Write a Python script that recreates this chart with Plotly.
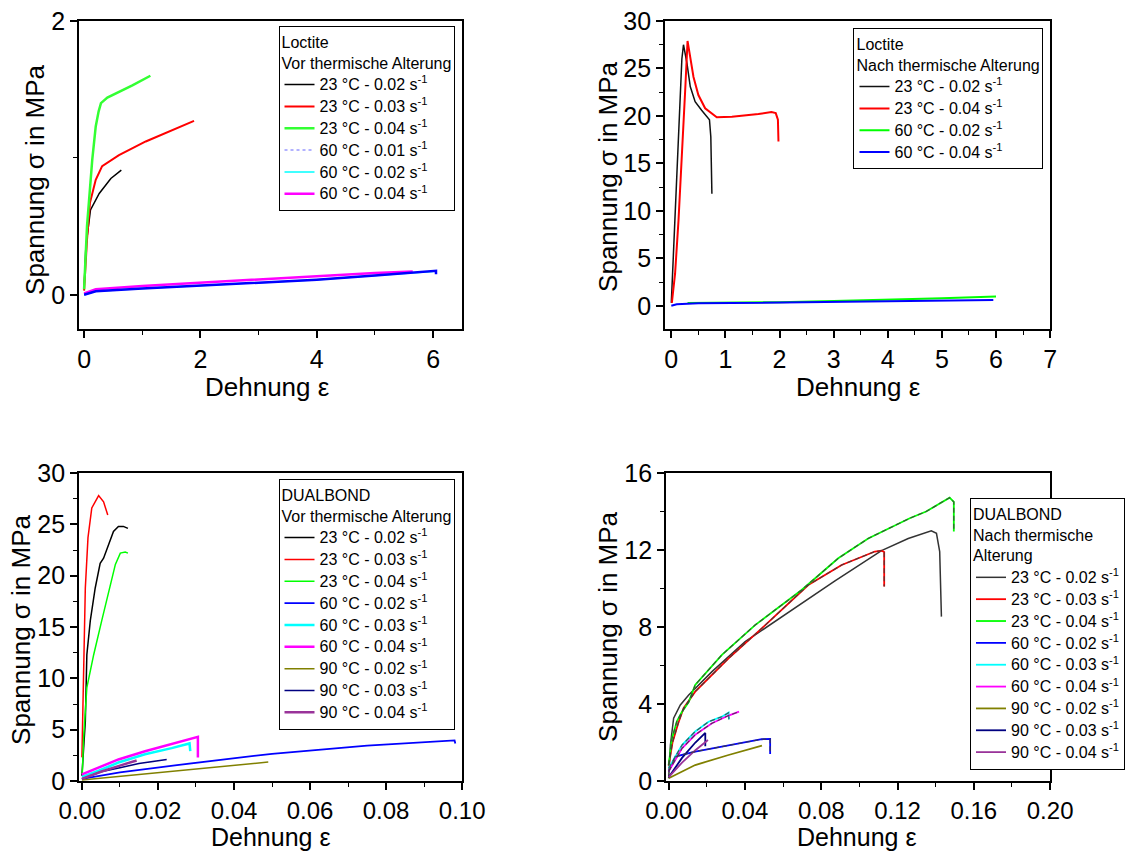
import plotly.graph_objects as go

W, H = 1125, 854
FONT = "Liberation Sans, Arial, sans-serif"

# ---------------- Panel 1: Loctite, vor thermische Alterung ----------------
p1_names = ["23 °C - 0.02 s<sup>-1</sup>", "23 °C - 0.03 s<sup>-1</sup>", "23 °C - 0.04 s<sup>-1</sup>",
            "60 °C - 0.01 s<sup>-1</sup>", "60 °C - 0.02 s<sup>-1</sup>", "60 °C - 0.04 s<sup>-1</sup>"]
p1_b_x = [0.0, 0.03, 0.11, 0.26, 0.46, 0.64]
p1_b_y = [0.05, 0.35, 0.62, 0.74, 0.85, 0.91]
p1_r_x = [0.0, 0.05, 0.1, 0.2, 0.31, 0.6, 1.06, 1.51, 1.89]
p1_r_y = [0.03, 0.4, 0.67, 0.84, 0.94, 1.02, 1.12, 1.20, 1.27]
p1_g_x = [0.0, 0.05, 0.14, 0.2, 0.25, 0.29, 0.4, 0.6, 0.83, 1.14]
p1_g_y = [0.04, 0.5, 0.985, 1.23, 1.34, 1.40, 1.44, 1.48, 1.53, 1.60]
p1_c_x = [0.0, 0.2, 1.0, 2.0, 3.0, 4.0, 5.0, 6.0]
p1_c_y = [0.0, 0.025, 0.045, 0.068, 0.09, 0.11, 0.14, 0.17]
p1_bl_x = [0.0, 0.2, 1.0, 2.0, 3.0, 4.0, 5.0, 6.05, 6.05]
p1_bl_y = [0.0, 0.025, 0.045, 0.068, 0.09, 0.11, 0.14, 0.175, 0.15]
p1_m_x = [0.0, 0.2, 1.0, 2.0, 3.0, 4.0, 5.0, 5.65]
p1_m_y = [0.01, 0.04, 0.065, 0.09, 0.115, 0.139, 0.16, 0.17]

# ---------------- Panel 2: Loctite, nach thermische Alterung ----------------
p2_names = ["23 °C - 0.02 s<sup>-1</sup>", "23 °C - 0.04 s<sup>-1</sup>",
            "60 °C - 0.02 s<sup>-1</sup>", "60 °C - 0.04 s<sup>-1</sup>"]
p2_b_x = [0.0, 0.04, 0.10, 0.165, 0.195, 0.225, 0.29, 0.35, 0.44, 0.56, 0.67, 0.705, 0.73, 0.75]
p2_b_y = [0.3, 5.5, 12.5, 21.3, 26.0, 27.5, 25.5, 23.1, 21.5, 20.6, 19.9, 19.6, 17.8, 11.8]
p2_r_x = [0.01, 0.07, 0.133, 0.19, 0.26, 0.30, 0.35, 0.41, 0.50, 0.625, 0.84, 1.12, 1.61, 1.85, 1.93, 1.97, 1.98]
p2_r_y = [0.3, 3.4, 9.0, 16.1, 23.1, 27.9, 26.2, 24.1, 22.2, 20.8, 19.85, 19.9, 20.2, 20.4, 20.3, 19.6, 17.3]
p2_g_x = [0.3, 1.0, 2.0, 3.0, 4.0, 5.0, 6.0]
p2_g_y = [0.3, 0.32, 0.38, 0.5, 0.62, 0.78, 0.98]
p2_bl_x = [0.0, 0.1, 0.5, 1.0, 2.0, 3.0, 4.0, 5.0, 5.95]
p2_bl_y = [0.0, 0.15, 0.25, 0.28, 0.32, 0.38, 0.45, 0.52, 0.6]

# ---------------- Panel 3: DUALBOND, vor thermische Alterung ----------------
p3_names = ["23 °C - 0.02 s<sup>-1</sup>", "23 °C - 0.03 s<sup>-1</sup>", "23 °C - 0.04 s<sup>-1</sup>",
            "60 °C - 0.02 s<sup>-1</sup>", "60 °C - 0.03 s<sup>-1</sup>", "60 °C - 0.04 s<sup>-1</sup>",
            "90 °C - 0.02 s<sup>-1</sup>", "90 °C - 0.03 s<sup>-1</sup>", "90 °C - 0.04 s<sup>-1</sup>"]
p3_k_x = [0.0, 0.0009, 0.0013, 0.0022, 0.0035, 0.0048, 0.0057, 0.007, 0.0083, 0.0096, 0.0109, 0.0121]
p3_k_y = [0.5, 5.8, 12.3, 15.6, 18.8, 21.2, 21.7, 23.0, 24.3, 24.8, 24.8, 24.6]
p3_r_x = [0.0, 0.00045, 0.0009, 0.0016, 0.0026, 0.0044, 0.0057, 0.0068]
p3_r_y = [2.3, 9.1, 18.8, 23.7, 26.6, 27.8, 27.2, 25.9]
p3_g_x = [0.0001, 0.00045, 0.0013, 0.0031, 0.0052, 0.0074, 0.0088, 0.0101, 0.0114, 0.0121]
p3_g_y = [0.65, 4.2, 9.1, 12.3, 15.6, 18.8, 21.1, 22.2, 22.3, 22.2]
p3_bl_x = [0.0, 0.01, 0.025, 0.05, 0.075, 0.098, 0.0982]
p3_bl_y = [0.2, 0.85, 1.55, 2.65, 3.45, 3.95, 3.65]
p3_c_x = [0.0, 0.0044, 0.0096, 0.0166, 0.0236, 0.0283, 0.0285]
p3_c_y = [0.4, 1.0, 1.8, 2.6, 3.2, 3.66, 2.9]
p3_m_x = [0.0, 0.0044, 0.0096, 0.0166, 0.0236, 0.0302, 0.0305, 0.0305]
p3_m_y = [0.64, 1.3, 2.1, 2.9, 3.6, 4.2, 4.3, 2.3]
p3_o_x = [0.0, 0.01, 0.02, 0.03, 0.04, 0.049]
p3_o_y = [0.1, 0.45, 0.85, 1.2, 1.55, 1.85]
p3_n_x = [0.0, 0.005, 0.01, 0.015, 0.0223]
p3_n_y = [0.2, 0.9, 1.3, 1.7, 2.1]
p3_p_x = [0.0, 0.005, 0.01, 0.0144]
p3_p_y = [0.2, 0.9, 1.5, 2.0]

# ---------------- Panel 4: DUALBOND, nach thermische Alterung ----------------
p4_names = p3_names
p4_k_x = [0.0, 0.0009, 0.0026, 0.0061, 0.0105, 0.0157, 0.0227, 0.0401, 0.0662, 0.0872, 0.1116,
          0.1256, 0.1377, 0.1404, 0.1421, 0.1426, 0.143]
p4_k_y = [0.14, 1.87, 3.26, 3.95, 4.47, 4.99, 5.68, 7.24, 8.97, 10.4, 11.97,
          12.6, 13.0, 12.87, 11.92, 10.4, 8.54]
p4_r_x = [0.0, 0.002, 0.005, 0.0078, 0.0139, 0.0314, 0.0488, 0.0732, 0.0907, 0.1081, 0.1116, 0.113, 0.113]
p4_r_y = [0.8, 2.0, 3.0, 3.78, 4.64, 6.37, 7.93, 10.18, 11.22, 11.92, 11.97, 11.9, 10.1]
p4_g_x = [0.0, 0.0017, 0.0043, 0.007, 0.0105, 0.0139, 0.0279, 0.0453, 0.0697, 0.0889, 0.1046,
          0.1264, 0.135, 0.1473, 0.1495, 0.1495]
p4_g_y = [0.83, 2.2, 3.1, 3.6, 4.1, 4.99, 6.55, 8.1, 9.92, 11.57, 12.6,
          13.65, 14.0, 14.72, 14.5, 12.96]
p4_bl_x = [0.0, 0.0035, 0.0139, 0.0314, 0.0418, 0.0488, 0.0532, 0.0532]
p4_bl_y = [0.5, 1.27, 1.53, 1.87, 2.05, 2.17, 2.18, 1.4]
p4_c_x = [0.0, 0.007, 0.0139, 0.0209, 0.0279, 0.0314, 0.0316]
p4_c_y = [0.66, 1.87, 2.57, 3.08, 3.34, 3.55, 3.2]
p4_m_x = [0.0, 0.007, 0.0139, 0.0227, 0.0314, 0.0369]
p4_m_y = [0.5, 1.7, 2.4, 3.0, 3.4, 3.6]
p4_o_x = [0.0, 0.0139, 0.0314, 0.0489]
p4_o_y = [0.14, 0.83, 1.35, 1.84]
p4_n_x = [0.0, 0.007, 0.014, 0.0192, 0.0192]
p4_n_y = [0.2, 1.2, 2.0, 2.5, 1.8]
p4_p_x = [0.0, 0.007, 0.014, 0.0206]
p4_p_y = [0.2, 0.95, 1.6, 2.13]

fig = go.Figure()


def lbl(name):
    return '<span style="font-size:16px">' + name + '</span>'


def add(x, y, name, color, width, xa, ya, leg, rank=1000, show=True, dash="solid"):
    fig.add_trace(go.Scatter(x=x, y=y, name=lbl(name), mode="lines",
                             line=dict(color=color, width=width, dash=dash),
                             xaxis=xa, yaxis=ya, legend=leg, showlegend=show,
                             legendrank=rank, hoverinfo="skip"))


# Panel 1
add(p1_c_x, p1_c_y, p1_names[4], "#00ffff", 1.5, "x", "y", "legend", 5)
add(p1_b_x, p1_b_y, p1_names[0], "#000000", 1.5, "x", "y", "legend", 1)
add(p1_r_x, p1_r_y, p1_names[1], "#ff0000", 2, "x", "y", "legend", 2)
add(p1_g_x, p1_g_y, p1_names[2], "#33ff33", 2.5, "x", "y", "legend", 3)
add(p1_m_x, p1_m_y, p1_names[5], "#ff00ff", 2.5, "x", "y", "legend", 6)
add(p1_bl_x, p1_bl_y, p1_names[3], "#0000ff", 2.5, "x", "y", "legend", show=False)
add([None], [None], p1_names[3], "#9999ff", 1.5, "x", "y", "legend", 4, dash="dot")

# Panel 2
add(p2_g_x, p2_g_y, p2_names[2], "#00ff00", 2, "x2", "y2", "legend2", 3)
add(p2_bl_x, p2_bl_y, p2_names[3], "#0000ff", 2, "x2", "y2", "legend2", 4)
add(p2_b_x, p2_b_y, p2_names[0], "#111111", 1.5, "x2", "y2", "legend2", 1)
add(p2_r_x, p2_r_y, p2_names[1], "#ff0000", 2, "x2", "y2", "legend2", 2)

# Panel 3
add(p3_k_x, p3_k_y, p3_names[0], "#000000", 1.5, "x3", "y3", "legend3", 1)
add(p3_r_x, p3_r_y, p3_names[1], "#ff0000", 1.5, "x3", "y3", "legend3", 2)
add(p3_g_x, p3_g_y, p3_names[2], "#00ff00", 1.5, "x3", "y3", "legend3", 3)
add(p3_bl_x, p3_bl_y, p3_names[3], "#0000ff", 1.8, "x3", "y3", "legend3", 4)
add(p3_c_x, p3_c_y, p3_names[4], "#00ffff", 2.5, "x3", "y3", "legend3", 5)
add(p3_m_x, p3_m_y, p3_names[5], "#ff00ff", 2.5, "x3", "y3", "legend3", 6)
add(p3_o_x, p3_o_y, p3_names[6], "#808000", 1.5, "x3", "y3", "legend3", 7)
add(p3_n_x, p3_n_y, p3_names[7], "#000080", 1.5, "x3", "y3", "legend3", 8)
add(p3_p_x, p3_p_y, p3_names[8], "#993399", 2.5, "x3", "y3", "legend3", 9)

# Panel 4
add(p4_k_x, p4_k_y, p4_names[0], "#333333", 1.5, "x4", "y4", "legend4", 1)
add(p4_r_x, p4_r_y, p4_names[1], "#ff0000", 1.8, "x4", "y4", "legend4", 2)
add(p4_g_x, p4_g_y, p4_names[2], "#00ff00", 1.8, "x4", "y4", "legend4", 3)
add(p4_bl_x, p4_bl_y, p4_names[3], "#0000ff", 1.8, "x4", "y4", "legend4", 4)
add(p4_c_x, p4_c_y, p4_names[4], "#00ffff", 1.8, "x4", "y4", "legend4", 5)
add(p4_m_x, p4_m_y, p4_names[5], "#ff00ff", 1.8, "x4", "y4", "legend4", 6)
add(p4_o_x, p4_o_y, p4_names[6], "#808000", 1.8, "x4", "y4", "legend4", 7)
add(p4_n_x, p4_n_y, p4_names[7], "#000080", 1.8, "x4", "y4", "legend4", 8)
add(p4_p_x, p4_p_y, p4_names[8], "#993399", 1.8, "x4", "y4", "legend4", 9)
# dark overlay seen on top of the coloured curves
for xs, ys in [(p4_r_x, p4_r_y), (p4_g_x, p4_g_y), (p4_c_x, p4_c_y), (p4_m_x, p4_m_y), (p4_bl_x, p4_bl_y)]:
    add(xs, ys, "", "rgba(60,60,60,0.85)", 1.2, "x4", "y4", "legend4", show=False, dash="5px,3px")


def px(v):
    return v / W


def py(v):
    return 1 - v / H


def xax(dom, rng, dtick, minor, anchor, fs=25):
    return dict(domain=[px(dom[0]), px(dom[1])], range=rng, dtick=dtick, tick0=0,
                showline=True, mirror=True, linecolor="black", linewidth=1.5,
                ticks="outside", ticklen=7, tickwidth=1.5, tickcolor="black",
                minor=dict(dtick=minor, tick0=0, ticks="outside", ticklen=4, tickwidth=1.2,
                           tickcolor="black", showgrid=False),
                showgrid=False, zeroline=False, anchor=anchor,
                tickfont=dict(family=FONT, size=fs, color="black"), automargin=False)


def yax(dom, rng, dtick, minor, anchor):
    d = xax([0, 1], rng, dtick, minor, anchor)
    d["domain"] = [py(dom[1]), py(dom[0])]
    return d


fig.update_layout(
    width=W, height=H, margin=dict(l=0, r=0, t=0, b=0),
    paper_bgcolor="white", plot_bgcolor="white",
    xaxis=xax([79, 463], [-0.09, 6.5], 2, 1, "y"),
    yaxis=yax([21, 329], [-0.25, 2], 2, 1, "x"),
    xaxis2=xax([666, 1052], [-0.12, 7], 1, 0.5, "y2"),
    yaxis2=yax([21, 329], [-2.45, 30], 5, 2.5, "x2"),
    xaxis3=xax([79, 463], [-0.0008, 0.1], 0.02, 0.01, "y3", fs=24),
    yaxis3=yax([473, 781], [0, 30], 5, 2.5, "x3"),
    xaxis4=xax([667, 1052], [-0.0015, 0.2], 0.04, 0.02, "y4", fs=24),
    yaxis4=yax([473, 781], [0, 16], 4, 2, "x4"),
)
fig.update_layout(xaxis3_tickformat=".2f", xaxis4_tickformat=".2f")

legfont = dict(family=FONT, size=14.5, color="black")
titlefont = dict(family=FONT, size=16, color="black")


def leg(x, y, title):
    return dict(x=px(x), y=py(y), xanchor="left", yanchor="top", bgcolor="white",
                bordercolor="black", borderwidth=1, font=legfont,
                title=dict(text=title, font=titlefont), tracegroupgap=0, itemwidth=30,
                traceorder="normal")


fig.update_layout(
    legend=leg(279, 26, "Loctite<br>Vor thermische Alterung"),
    legend2=leg(855, 28, "Loctite<br>Nach thermische Alterung"),
    legend3=leg(279, 479, "DUALBOND<br>Vor thermische Alterung"),
    legend4=leg(972, 498, "DUALBOND<br>Nach thermische<br>Alterung"),
)

ann = []
for x, y, t in [(268, 387, "Dehnung ε"), (860, 387, "Dehnung ε")]:
    ann.append(dict(x=px(x), y=py(y), xref="paper", yref="paper", text=t, showarrow=False,
                    xanchor="center", yanchor="middle", font=dict(family=FONT, size=26, color="black")))
for x, t in [(271, "Dehnung ε"), (859, "Dehnung ε")]:
    ann.append(dict(x=px(x), y=py(853), xref="paper", yref="paper", text=t, showarrow=False,
                    xanchor="center", yanchor="bottom", font=dict(family=FONT, size=25, color="black")))
for x, y in [(35, 179), (609, 176), (21, 629), (609, 626)]:
    ann.append(dict(x=px(x), y=py(y), xref="paper", yref="paper", text="Spannung σ in MPa", showarrow=False,
                    textangle=-90, xanchor="center", yanchor="middle",
                    font=dict(family=FONT, size=26, color="black")))
fig.update_layout(annotations=ann)

fig.write_html("out.html")
